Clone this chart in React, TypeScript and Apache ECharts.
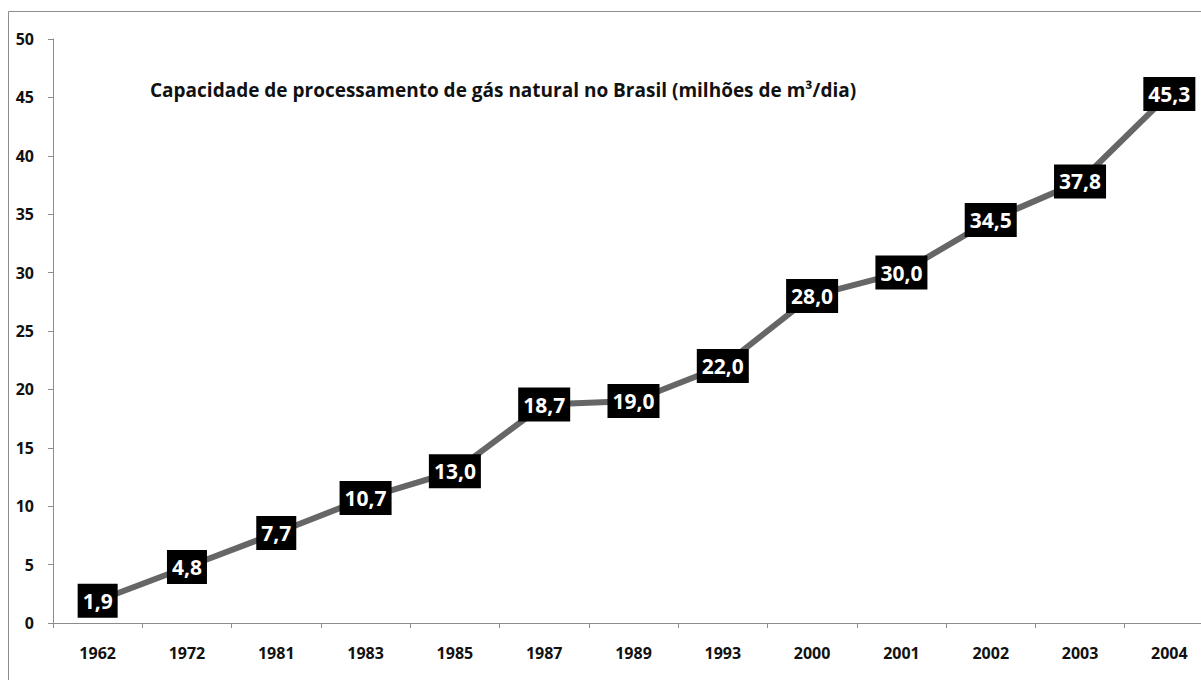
import React, { useEffect, useRef } from "react";
import * as echarts from "echarts";

const years = ["1962", "1972", "1981", "1983", "1985", "1987", "1989", "1993", "2000", "2001", "2002", "2003", "2004"];
const capacity = [1.9, 4.8, 7.7, 10.7, 13.0, 18.7, 19.0, 22.0, 28.0, 30.0, 34.5, 37.8, 45.3];
const chartTitle = "Capacidade de processamento de gás natural no Brasil (milhões de m³/dia)";

const FONT = "'Open Sans', sans-serif";

export default function App() {
  const ref = useRef<HTMLDivElement>(null);
  useEffect(() => {
    if (!ref.current) return;
    const chart = echarts.init(ref.current, null, { renderer: "svg" });
    chart.setOption({
      animation: false,
      backgroundColor: "#ffffff",
      grid: { left: 53, right: 0, top: 39, bottom: 57, containLabel: false },
      graphic: [
        {
          type: "rect",
          z: -1,
          shape: { x: 8.5, y: 11.5, width: 1300, height: 800 },
          style: { fill: "none", stroke: "#8c8c8c", lineWidth: 1 },
        },
        {
          type: "text",
          left: 150,
          top: 80,
          style: {
            text: chartTitle,
            font: `bold 19px ${FONT}`,
            fill: "#111",
          },
        },
      ],
      xAxis: {
        type: "category",
        data: years,
        boundaryGap: true,
        axisLine: { lineStyle: { color: "#8c8c8c", width: 1 } },
        axisTick: { show: true, length: 5, inside: false, alignWithLabel: false, lineStyle: { color: "#8c8c8c" } },
        axisLabel: { color: "#111", fontWeight: "bold", fontSize: 16, fontFamily: FONT, margin: 22 },
        splitLine: { show: false },
      },
      yAxis: {
        type: "value",
        min: 0,
        max: 50,
        interval: 5,
        axisLine: { show: true, lineStyle: { color: "#8c8c8c", width: 1 } },
        axisTick: { show: true, length: 5, lineStyle: { color: "#8c8c8c" } },
        axisLabel: { color: "#111", fontWeight: "bold", fontSize: 16, fontFamily: FONT, margin: 19 },
        splitLine: { show: false },
      },
      series: [
        {
          type: "line",
          data: capacity,
          symbol: "circle",
          symbolSize: 2,
          showSymbol: true,
          itemStyle: { color: "rgba(0,0,0,0)", borderWidth: 0 },
          lineStyle: { color: "#666666", width: 6 },
          labelLayout: { hideOverlap: false },
          label: {
            show: true,
            position: "inside",
            formatter: (p: any) => Number(p.value).toFixed(1).replace(".", ","),
            backgroundColor: "#000000",
            color: "#ffffff",
            fontWeight: "bold",
            fontSize: 21,
            fontFamily: FONT,
            padding: [7, 5, 6, 5],
          },
        },
      ],
    });
    return () => chart.dispose();
  }, []);
  return (
    <div style={{ position: "absolute", left: 0, top: 0, width: 1201, height: 680, overflow: "hidden" }}>
      <div ref={ref} style={{ width: 1214, height: 680 }} />
    </div>
  );
}
